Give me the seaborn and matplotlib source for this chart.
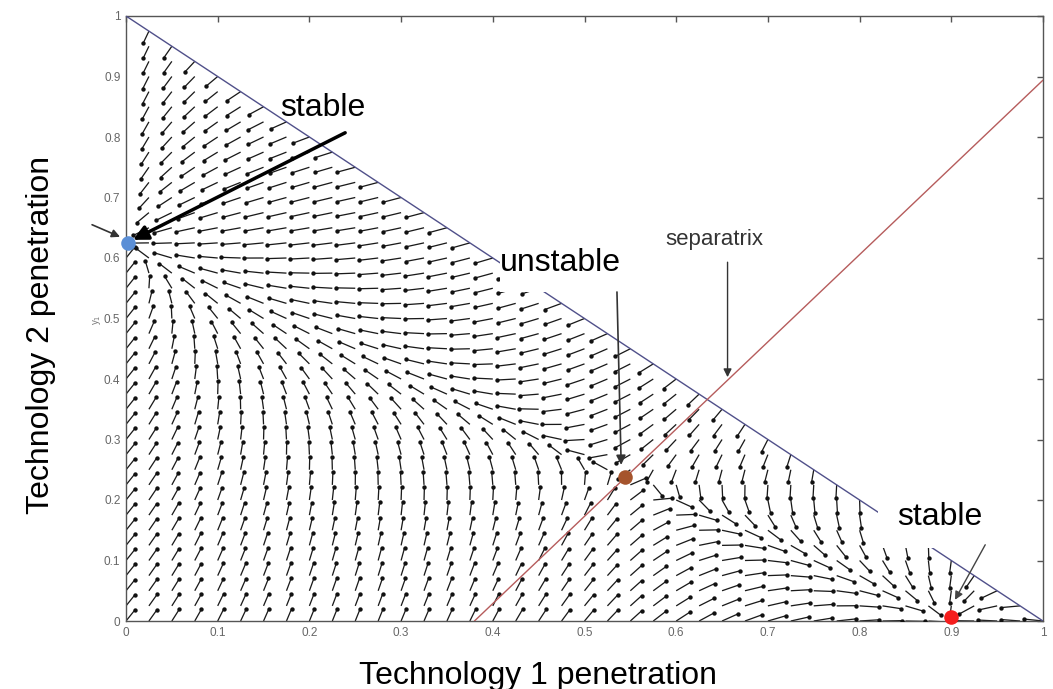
import numpy as np
import matplotlib
matplotlib.use("Agg")
import matplotlib.pyplot as plt
from matplotlib.patches import Rectangle
import seaborn as sns

# Equilibria of the two-technology competition model
eq_x = [0.002, 0.544, 0.900]
eq_y = [0.625, 0.238, 0.006]
eq_kind = ["stable", "unstable", "stable"]
eq_colors = ["#5b8fd6", "#a5542c", "#f51d1d"]

# Separatrix through the saddle
sep_x = [0.38, 1.0]
sep_y = [0.0, 0.894]

# Feasible-region boundary x + y = 1
bound_x = [0.0, 1.0]
bound_y = [1.0, 0.0]

tick_vals = [0.0, 0.1, 0.2, 0.3, 0.4, 0.5, 0.6, 0.7, 0.8, 0.9, 1.0]
tick_labels = ["0", "0.1", "0.2", "0.3", "0.4", "0.5", "0.6", "0.7", "0.8", "0.9", "1"]

# Model parameters: attraction towards the slow curve and drift along it
knot_x = [0.0, 0.1, 0.25, 0.544, 0.7, 0.9, 1.0]
angle_above = [80, 68, 45, 36, 48, 85, 85]
angle_below = [62, 62, 58, 55, 50, 42, 42]
pull = [0.49, 0.45, 0.42, 0.40, 0.38, 0.34, 0.34]
drift = 1.0
step = 0.025
arrow_len = 0.021


def velocity(x, y):
    coef = np.polyfit([0.0, eq_x[1], eq_x[2]], [eq_y[0], eq_y[1], 0.0], 2)
    m = np.polyval(coef, x)
    dm = np.polyval(np.polyder(coef), x)
    h = y - m
    s = -drift * x * (x - eq_x[1]) * (x - eq_x[2])
    ang = np.deg2rad(np.where(h > 0, np.interp(x, knot_x, angle_above),
                              np.interp(x, knot_x, angle_below)))
    lam = np.interp(x, knot_x, pull)
    u = s - lam * h * np.cos(ang)
    v = s * dm - lam * h * np.sin(ang)
    return u, v


g = np.round(np.arange(0.0, 1.0 + 1e-9, step), 4)
GX, GY = np.meshgrid(g, g)
inside = GX + GY <= 1.0 + 1e-9
X, Y = GX[inside], GY[inside]
U, V = velocity(X, Y)
norm = np.hypot(U, V)
norm[norm == 0] = 1.0
U = U / norm * arrow_len
V = V / norm * arrow_len

sns.set_theme(style="white")
plt.rcParams["font.family"] = ["Liberation Sans", "DejaVu Sans"]

fig = plt.figure(figsize=(10.53, 6.89), dpi=100)
ax = fig.add_axes([126 / 1053, 68 / 689, 917 / 1053, 605 / 689])

ax.quiver(X, Y, U, V, angles="xy", scale_units="xy", scale=1, pivot="tail",
          width=0.0014, headwidth=0, headlength=0, headaxislength=0,
          color="#1a1a1a", zorder=2)
sns.scatterplot(x=X + U, y=Y + V, s=10, color="#111111", linewidth=0,
                ax=ax, zorder=3, legend=False)

sns.lineplot(x=bound_x, y=bound_y, color="#50508a", linewidth=1.0, ax=ax,
             zorder=4, estimator=None, sort=False)
sns.lineplot(x=sep_x, y=sep_y, color="#b65c5c", linewidth=1.0, ax=ax,
             zorder=4, estimator=None, sort=False)

for ex, ey, c in zip(eq_x, eq_y, eq_colors):
    ax.scatter([ex], [ey], s=110, color=c, zorder=8, clip_on=False, linewidths=0)

ax.set_xlim(0, 1)
ax.set_ylim(0, 1)
ax.set_xticks(tick_vals)
ax.set_xticklabels(tick_labels)
ax.set_yticks(tick_vals)
ax.set_yticklabels(tick_labels)
ax.tick_params(direction="in", length=4, width=1, color="#555555",
               labelcolor="#666666", labelsize=8.5, top=True, right=True, pad=4)
for sp in ax.spines.values():
    sp.set_color("#555555")
    sp.set_linewidth(1.0)
ax.set_xlabel("")
ax.set_ylabel("")

ax.text(-0.032, 0.4975, "y$_1$", rotation=90, fontsize=7, color="#777777",
        ha="center", va="center", transform=ax.transAxes)

big = 23
# white panels behind the lower labels
ax.add_patch(Rectangle((0.408, 0.544), 0.137, 0.08, facecolor="white",
                       edgecolor="none", zorder=6))
ax.add_patch(Rectangle((0.820, 0.121), 0.122, 0.099, facecolor="white",
                       edgecolor="none", zorder=6))

# labels for the equilibria
ax.text(0.215, 0.848, eq_kind[0], fontsize=big, color="black", ha="center",
        va="center", zorder=9)
ax.annotate("", xy=(0.0076, 0.630), xytext=(0.239, 0.807), zorder=9,
            arrowprops=dict(arrowstyle="-|>", color="black", lw=2.5,
                            mutation_scale=22, shrinkA=0, shrinkB=0))
ax.annotate("", xy=(-0.0065, 0.635), xytext=(-0.037, 0.655),
            annotation_clip=False,
            arrowprops=dict(arrowstyle="-|>", color="#333333", lw=1.2,
                            mutation_scale=12, shrinkA=0, shrinkB=0))
ax.text(0.474, 0.592, eq_kind[1], fontsize=big, color="black", ha="center",
        va="center", zorder=9)
ax.annotate("", xy=(0.540, 0.258), xytext=(0.5354, 0.5438), zorder=9,
            arrowprops=dict(arrowstyle="-|>", color="#333333", lw=1.2,
                            mutation_scale=14, shrinkA=0, shrinkB=0))
ax.text(0.642, 0.630, "separatrix", fontsize=16, color="#333333",
        ha="center", va="center", zorder=9)
ax.annotate("", xy=(0.656, 0.403), xytext=(0.656, 0.593), zorder=9,
            arrowprops=dict(arrowstyle="-|>", color="#333333", lw=1.0,
                            mutation_scale=12, shrinkA=0, shrinkB=0))
ax.text(0.888, 0.172, eq_kind[2], fontsize=big, color="black", ha="center",
        va="center", zorder=9)
ax.annotate("", xy=(0.904, 0.035), xytext=(0.937, 0.126), zorder=9,
            arrowprops=dict(arrowstyle="-|>", color="#444444", lw=1.0,
                            mutation_scale=12, shrinkA=0, shrinkB=0))

fig.text(538 / 1053, 1 - 676 / 689, "Technology 1 penetration", fontsize=big,
         ha="center", va="center", color="black")
fig.text(41 / 1053, 1 - 335 / 689, "Technology 2 penetration", fontsize=big,
         ha="center", va="center", rotation=90, color="black")

fig.savefig("out.png", dpi=100, facecolor="white")
